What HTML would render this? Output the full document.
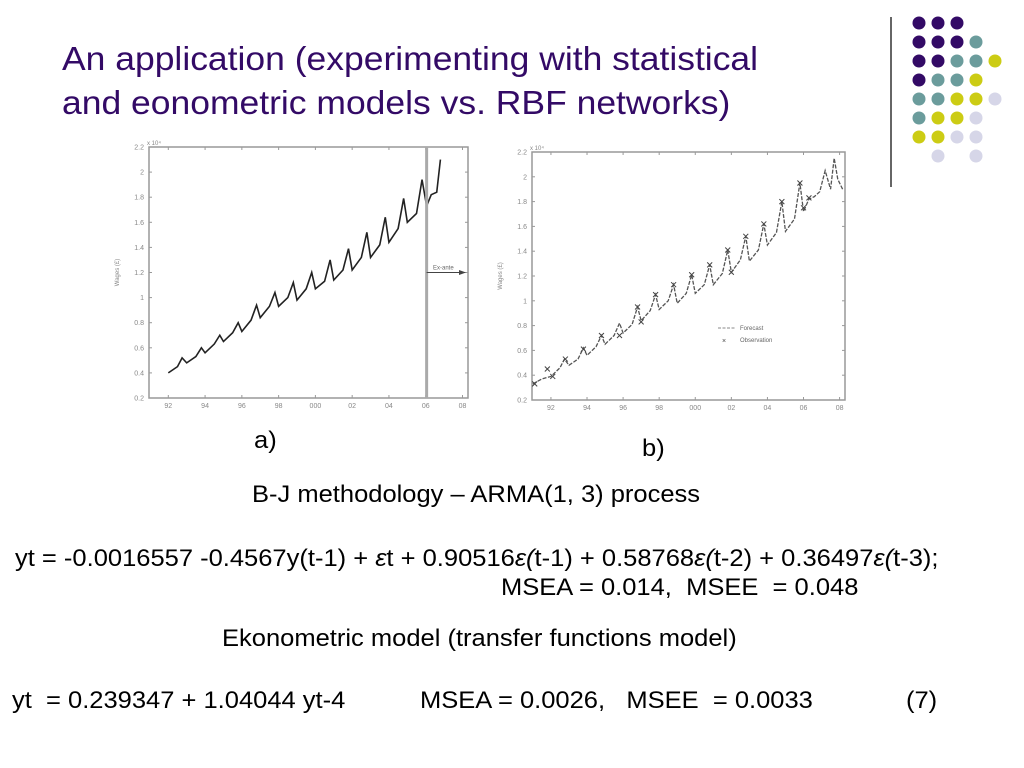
<!DOCTYPE html>
<html><head><meta charset="utf-8">
<style>
body{margin:0;width:1024px;height:768px;background:#fff;overflow:hidden;position:relative;font-family:"Liberation Sans",sans-serif;}
.t{position:absolute;white-space:nowrap;color:#000;font-size:24px;transform:scaleX(1.063);transform-origin:0 0;}
.title{position:absolute;left:62px;color:#330a66;font-size:33px;white-space:nowrap;transform:scaleX(1.075);transform-origin:0 0;}
svg{position:absolute;left:0;top:0;}
</style></head><body>
<div class="title" style="top:40px">An application (experimenting with statistical</div>
<div class="title" style="top:84px">and eonometric models vs. RBF networks)</div>
<div class="t" style="left:254px;top:427px">a)</div>
<div class="t" style="left:642px;top:435px">b)</div>
<div class="t" style="left:252px;top:481px">B-J methodology – ARMA(1, 3) process</div>
<div class="t" style="left:15px;top:545px">yt = -0.0016557 -0.4567y(t-1) + <i>ε</i>t + 0.90516<i>ε(</i>t-1) + 0.58768<i>ε(</i>t-2) + 0.36497<i>ε(</i>t-3);</div>
<div class="t" style="left:501px;top:574px">MSEA = 0.014,&nbsp; MSEE&nbsp; = 0.048</div>
<div class="t" style="left:222px;top:625px">Ekonometric model (transfer functions model)</div>
<div class="t" style="left:12px;top:687px">yt&nbsp; = 0.239347 + 1.04044 yt-4</div>
<div class="t" style="left:420px;top:687px">MSEA = 0.0026,&nbsp;&nbsp; MSEE&nbsp; = 0.0033</div>
<div class="t" style="left:906px;top:687px">(7)</div>
<svg id="svg" width="1024" height="768"></svg>
<script>
const xa=[92.0,92.5,92.75,93.0,93.5,93.8,94.0,94.5,94.8,95.0,95.5,95.8,96.0,96.5,96.8,97.0,97.5,97.8,98.0,98.5,98.8,99.0,99.5,99.8,100.0,100.5,100.8,101.0,101.5,101.8,102.0,102.5,102.8,103.0,103.5,103.8,104.0,104.5,104.8,105.0,105.5,105.8,106.05,106.3,106.6,106.8];
const ya=[0.40,0.45,0.52,0.48,0.53,0.60,0.56,0.63,0.70,0.65,0.72,0.80,0.73,0.82,0.94,0.84,0.93,1.04,0.93,1.00,1.12,0.98,1.07,1.20,1.07,1.13,1.30,1.14,1.22,1.39,1.22,1.32,1.52,1.32,1.42,1.64,1.44,1.55,1.79,1.60,1.67,1.94,1.73,1.82,1.84,2.10];
const xb=[91.0,91.5,92.0,92.5,92.75,93.0,93.5,93.8,94.0,94.5,94.8,95.0,95.5,95.8,96.0,96.5,96.8,97.0,97.5,97.8,98.0,98.5,98.8,99.0,99.5,99.8,100.0,100.5,100.8,101.0,101.5,101.8,102.0,102.5,102.8,103.0,103.5,103.8,104.0,104.5,104.8,105.0,105.5,105.8,106.0,106.3,106.6,106.9,107.2,107.5,107.7,107.9,108.2];
const yb=[0.33,0.37,0.39,0.46,0.53,0.48,0.53,0.62,0.56,0.63,0.72,0.65,0.72,0.82,0.74,0.81,0.95,0.84,0.92,1.05,0.93,1.00,1.13,0.98,1.06,1.21,1.06,1.13,1.29,1.13,1.22,1.41,1.23,1.33,1.52,1.32,1.41,1.62,1.45,1.55,1.80,1.56,1.66,1.95,1.72,1.82,1.84,1.88,2.05,1.90,2.15,1.98,1.89];
const obsX=[91.1,91.8,92.1,92.8,93.8,94.8,95.8,96.8,97.0,97.8,98.8,99.8,100.8,101.8,102.0,102.8,103.8,104.8,105.8,106.0,106.3];
const obsY=[0.33,0.45,0.39,0.53,0.61,0.72,0.72,0.95,0.83,1.05,1.13,1.21,1.29,1.41,1.23,1.52,1.62,1.80,1.95,1.75,1.83];
const yTicks=[0.2,0.4,0.6,0.8,1,1.2,1.4,1.6,1.8,2,2.2];
const yTickLabels=["0.2","0.4","0.6","0.8","1","1.2","1.4","1.6","1.8","2","2.2"];
const xTicks=[92,94,96,98,100,102,104,106,108];
const xTickLabels=["92","94","96","98","000","02","04","06","08"];
const cutoffYear=106.05;
const NS='http://www.w3.org/2000/svg';
const svg=document.getElementById('svg');
function mk(tag,attrs,parent){const e=document.createElementNS(NS,tag);for(const k in attrs)e.setAttribute(k,attrs[k]);(parent||svg).appendChild(e);return e;}
function chart(name,L,R,T,B,x0,x1){
  const g=mk('g',{});
  
  
  const sx=v=>L+(v-x0)/(x1-x0)*(R-L), sy=v=>B-(v-0.2)/2.0*(B-T);
  const fr=mk('rect',{x:L,y:T,width:R-L,height:B-T,fill:'none',stroke:'#999','stroke-width':1.5},g);
  
  
  yTicks.forEach((v,i)=>{
    mk('line',{x1:L,x2:L+3,y1:sy(v),y2:sy(v),stroke:'#999'},g);
    mk('line',{x1:R,x2:R-3,y1:sy(v),y2:sy(v),stroke:'#999'},g);
    const t=mk('text',{x:L-5,y:sy(v)+2.5,'font-size':7,fill:'#888','text-anchor':'end','font-family':'Liberation Sans'},g);
    t.textContent=yTickLabels[i];
    
    
  });
  xTicks.forEach((v,i)=>{
    mk('line',{x1:sx(v),x2:sx(v),y1:B,y2:B-3,stroke:'#999'},g);
    mk('line',{x1:sx(v),x2:sx(v),y1:T,y2:T+3,stroke:'#999'},g);
    const t=mk('text',{x:sx(v),y:B+10,'font-size':7,fill:'#888','text-anchor':'middle','font-family':'Liberation Sans'},g);
    t.textContent=xTickLabels[i];
    
    
  });
  const e=mk('text',{x:L-2,y:T-2,'font-size':6,fill:'#888','font-family':'Liberation Sans'},g);
  e.textContent='x 10⁴';
  
  
  const yl=mk('text',{x:L-30,y:(T+B)/2,'font-size':6,fill:'#888','text-anchor':'middle','font-family':'Liberation Sans',transform:`rotate(-90 ${L-30} ${(T+B)/2})`},g);
  yl.textContent='Wages (£)';
  
  
  return {g,sx,sy};
}
const A=chart('chart-a',149,468,147,398,90.95,108.3);
const la=mk('polyline',{points:xa.map((x,i)=>A.sx(x)+','+A.sy(ya[i])).join(' '),fill:'none',stroke:'#222','stroke-width':1.6},A.g);


const vl=mk('line',{x1:A.sx(cutoffYear),x2:A.sx(cutoffYear),y1:147,y2:398,stroke:'#aaa','stroke-width':3},A.g);


const ar=mk('line',{x1:A.sx(cutoffYear),x2:465,y1:A.sy(1.2),y2:A.sy(1.2),stroke:'#444','stroke-width':1},A.g);


mk('polygon',{points:`466,${A.sy(1.2)} 459,${A.sy(1.2)-2.5} 459,${A.sy(1.2)+2.5}`,fill:'#444'},A.g);
const ea=mk('text',{x:433,y:A.sy(1.2)-3,'font-size':6,fill:'#666','font-family':'Liberation Sans'},A.g);
ea.textContent='Ex-ante';


const Bc=chart('chart-b',532,845,152,400,90.95,108.3);
const lb=mk('polyline',{points:xb.map((x,i)=>Bc.sx(x)+','+Bc.sy(yb[i])).join(' '),fill:'none',stroke:'#555','stroke-width':1.3,'stroke-dasharray':'4 1.5'},Bc.g);


obsX.forEach((x,i)=>{
  const cx=Bc.sx(x),cy=Bc.sy(obsY[i]);
  const m=mk('path',{d:`M${cx-2.5},${cy-2.5}L${cx+2.5},${cy+2.5}M${cx-2.5},${cy+2.5}L${cx+2.5},${cy-2.5}`,stroke:'#444','stroke-width':1},Bc.g);
  
  
});
mk('line',{x1:718,x2:735,y1:328,y2:328,stroke:'#888','stroke-dasharray':'3 1.5'},Bc.g);
const lf=mk('text',{x:740,y:330,'font-size':6,fill:'#666','font-family':'Liberation Sans'},Bc.g);
lf.textContent='Forecast';


const lo0=mk('text',{x:722,y:343,'font-size':7,fill:'#444','font-family':'Liberation Sans'},Bc.g);
lo0.textContent='×';
const lo=mk('text',{x:740,y:342,'font-size':6,fill:'#666','font-family':'Liberation Sans'},Bc.g);
lo.textContent='Observation';


const dl=mk('line',{x1:891,x2:891,y1:17,y2:187,stroke:'#333','stroke-width':1.5});


const cols={P:'#330a66',T:'#6b9c9c',Y:'#cccc14',L:'#d6d6e8'};
const grid=["PPP..","PPPT.","PPTTY","PTTY.","TTYYL","TYYL.","YYLL.",".L.L."];
grid.forEach((row,r)=>[...row].forEach((c,k)=>{
  if(c==='.')return;
  const d=mk('circle',{cx:919+k*19,cy:23+r*19,r:6.5,fill:cols[c]});
  
  
}));
</script>
</body></html>
